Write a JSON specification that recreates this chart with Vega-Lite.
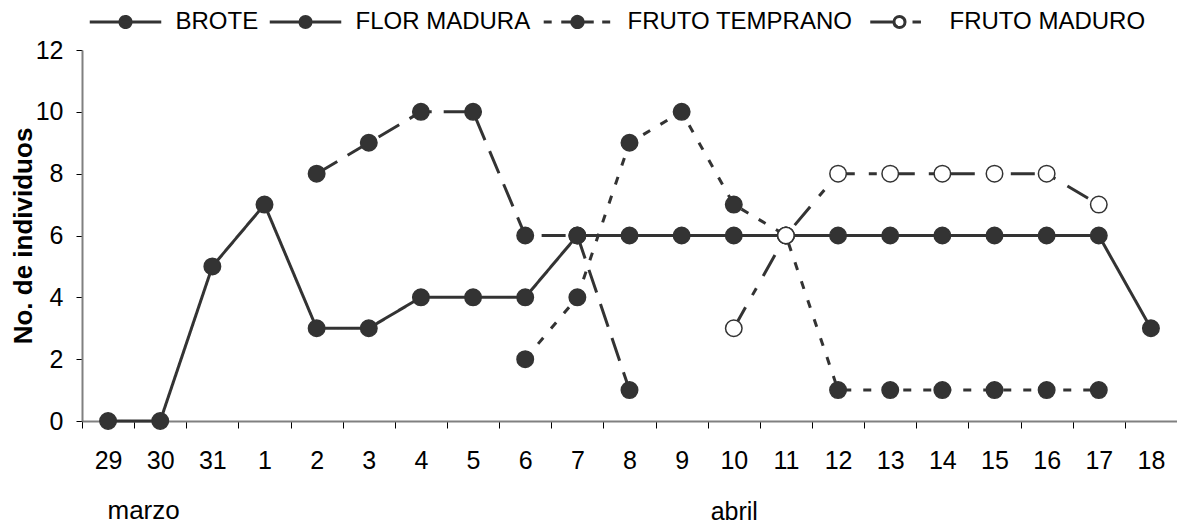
{
  "$schema": "https://vega.github.io/schema/vega-lite/v6.json",
  "width": 1095,
  "height": 371,
  "autosize": {"type": "none"},
  "padding": {"left": 82, "top": 50, "right": 0, "bottom": 106},
  "background": "white",
  "config": {
    "view": {"stroke": null},
    "font": "Liberation Sans"
  },
  "data": {
    "values": [
      {"dia": "29", "serie": "BROTE", "n": 0},
      {"dia": "30", "serie": "BROTE", "n": 0},
      {"dia": "31", "serie": "BROTE", "n": 5},
      {"dia": "1", "serie": "BROTE", "n": 7},
      {"dia": "2", "serie": "BROTE", "n": 3},
      {"dia": "3", "serie": "BROTE", "n": 3},
      {"dia": "4", "serie": "BROTE", "n": 4},
      {"dia": "5", "serie": "BROTE", "n": 4},
      {"dia": "6", "serie": "BROTE", "n": 4},
      {"dia": "7", "serie": "BROTE", "n": 6},
      {"dia": "8", "serie": "BROTE", "n": 6},
      {"dia": "9", "serie": "BROTE", "n": 6},
      {"dia": "10", "serie": "BROTE", "n": 6},
      {"dia": "11", "serie": "BROTE", "n": 6},
      {"dia": "12", "serie": "BROTE", "n": 6},
      {"dia": "13", "serie": "BROTE", "n": 6},
      {"dia": "14", "serie": "BROTE", "n": 6},
      {"dia": "15", "serie": "BROTE", "n": 6},
      {"dia": "16", "serie": "BROTE", "n": 6},
      {"dia": "17", "serie": "BROTE", "n": 6},
      {"dia": "18", "serie": "BROTE", "n": 3},
      {"dia": "2", "serie": "FLOR MADURA", "n": 8},
      {"dia": "3", "serie": "FLOR MADURA", "n": 9},
      {"dia": "4", "serie": "FLOR MADURA", "n": 10},
      {"dia": "5", "serie": "FLOR MADURA", "n": 10},
      {"dia": "6", "serie": "FLOR MADURA", "n": 6},
      {"dia": "7", "serie": "FLOR MADURA", "n": 6},
      {"dia": "8", "serie": "FLOR MADURA", "n": 1},
      {"dia": "6", "serie": "FRUTO TEMPRANO", "n": 2},
      {"dia": "7", "serie": "FRUTO TEMPRANO", "n": 4},
      {"dia": "8", "serie": "FRUTO TEMPRANO", "n": 9},
      {"dia": "9", "serie": "FRUTO TEMPRANO", "n": 10},
      {"dia": "10", "serie": "FRUTO TEMPRANO", "n": 7},
      {"dia": "11", "serie": "FRUTO TEMPRANO", "n": 6},
      {"dia": "12", "serie": "FRUTO TEMPRANO", "n": 1},
      {"dia": "13", "serie": "FRUTO TEMPRANO", "n": 1},
      {"dia": "14", "serie": "FRUTO TEMPRANO", "n": 1},
      {"dia": "15", "serie": "FRUTO TEMPRANO", "n": 1},
      {"dia": "16", "serie": "FRUTO TEMPRANO", "n": 1},
      {"dia": "17", "serie": "FRUTO TEMPRANO", "n": 1},
      {"dia": "10", "serie": "FRUTO MADURO", "n": 3},
      {"dia": "11", "serie": "FRUTO MADURO", "n": 6},
      {"dia": "12", "serie": "FRUTO MADURO", "n": 8},
      {"dia": "13", "serie": "FRUTO MADURO", "n": 8},
      {"dia": "14", "serie": "FRUTO MADURO", "n": 8},
      {"dia": "15", "serie": "FRUTO MADURO", "n": 8},
      {"dia": "16", "serie": "FRUTO MADURO", "n": 8},
      {"dia": "17", "serie": "FRUTO MADURO", "n": 7}
    ]
  },
  "encoding": {
    "x": {
      "field": "dia",
      "type": "nominal",
      "scale": {
        "type": "band",
        "paddingInner": 0,
        "paddingOuter": 0,
        "domain": ["29","30","31","1","2","3","4","5","6","7","8","9","10","11","12","13","14","15","16","17","18"]
      },
      "axis": {
        "labelAngle": 0,
        "tickBand": "extent",
        "tickSize": 7,
        "tickColor": "#000000",
        "tickWidth": 1,
        "domainColor": "#808080",
        "domainWidth": 2,
        "labelFont": "Liberation Sans",
        "labelFontSize": 25,
        "labelColor": "#000000",
        "labelPadding": 20,
        "labelBaseline": "top",
        "labelLineHeight": 51,
        "labelExpr": "datum.label == '10' ? ['10', 'abril'] : datum.label",
        "title": "marzo",
        "titleFont": "Liberation Sans",
        "titleFontSize": 26,
        "titleFontWeight": "normal",
        "titleColor": "#000000",
        "titleAnchor": "start",
        "titleAlign": "left",
        "titleBaseline": "middle",
        "titleX": 25,
        "titleY": 89
      }
    },
    "y": {
      "field": "n",
      "type": "quantitative",
      "scale": {"domain": [0, 12], "nice": false, "zero": true},
      "axis": {
        "values": [0, 2, 4, 6, 8, 10, 12],
        "grid": false,
        "tickSize": 6,
        "tickColor": "#000000",
        "tickWidth": 1,
        "domainColor": "#808080",
        "domainWidth": 2,
        "labelFont": "Liberation Sans",
        "labelFontSize": 25,
        "labelColor": "#000000",
        "labelPadding": 13,
        "title": "No. de individuos",
        "titleFont": "Liberation Sans",
        "titleFontSize": 26,
        "titleFontWeight": "bold",
        "titleColor": "#000000",
        "titlePadding": -1
      }
    }
  },
  "layer": [
    {
      "mark": {"type": "line", "strokeWidth": 3},
      "encoding": {
        "detail": {"field": "serie"},
        "order": {"value": null},
        "strokeDash": {
          "field": "serie",
          "type": "nominal",
          "scale": {
            "domain": ["BROTE", "FLOR MADURA", "FRUTO TEMPRANO", "FRUTO MADURO"],
            "range": [[1, 0], [24, 12], [8, 12], [24, 14, 8, 14]]
          },
          "legend": null
        },
        "color": {
          "field": "serie",
          "type": "nominal",
          "scale": {
            "domain": ["BROTE", "FLOR MADURA", "FRUTO TEMPRANO", "FRUTO MADURO"],
            "range": ["#333333", "#333333", "#333333", "#333333"]
          },
          "legend": {
            "title": null,
            "orient": "top",
            "direction": "horizontal",
            "offset": 16,
            "padding": 0,
            "symbolSize": 169,
            "symbolStrokeWidth": 3,
            "symbolOffset": 31.5,
            "labelOffset": 38,
            "labelLimit": 0,
            "columnPadding": 3,
            "labelFont": "Liberation Sans",
            "labelFontSize": 24,
            "labelColor": "#000000",
            "encoding": {
              "symbols": {
                "shape": {
                  "condition": [
                    {"test": "datum.value === 'BROTE'", "value": "M-5.5,0H5.5M-0.85,0A0.85,0.85,0,1,0,0.85,0A0.85,0.85,0,1,0,-0.85,0M0.85,0A0.85,0.85,0,1,0,-0.85,0A0.85,0.85,0,1,0,0.85,0"},
                    {"test": "datum.value === 'FLOR MADURA'", "value": "M-5.5,0H-2.9M-3.1,0H-0.85M0.85,0H3.1M2.9,0H5.5M-0.85,0A0.85,0.85,0,1,0,0.85,0A0.85,0.85,0,1,0,-0.85,0M0.85,0A0.85,0.85,0,1,0,-0.85,0A0.85,0.85,0,1,0,0.85,0"},
                    {"test": "datum.value === 'FRUTO TEMPRANO'", "value": "M-5.2,0H-3.8M-2.5,0H-1.3M-1.4,0H-0.85M0.85,0H1.4M1.3,0H2.5M3.8,0H5.2M0.85,0A0.85,0.85,0,1,0,-0.85,0A0.85,0.85,0,1,0,0.85,0M0.263,0.808A0.85,0.85,0,1,0,-0.263,-0.808A0.85,0.85,0,1,0,0.263,0.808M-0.688,0.5A0.85,0.85,0,1,0,0.688,-0.5A0.85,0.85,0,1,0,-0.688,0.5M-0.688,-0.5A0.85,0.85,0,1,0,0.688,0.5A0.85,0.85,0,1,0,-0.688,-0.5M0.263,-0.808A0.85,0.85,0,1,0,-0.263,0.808A0.85,0.85,0,1,0,0.263,-0.808"}
                  ],
                  "value": "M-4.5,0H-0.85M2.0,0H3.3M-0.85,0A0.85,0.85,0,1,0,0.85,0A0.85,0.85,0,1,0,-0.85,0M0.85,0A0.85,0.85,0,1,0,-0.85,0A0.85,0.85,0,1,0,0.85,0"
                },
                "fill": {
                  "condition": {"test": "datum.value === 'FRUTO MADURO'", "value": "#ffffff"},
                  "value": "#333333"
                },
                "stroke": {"value": "#333333"},
                "strokeWidth": {"value": 3},
                "opacity": {"value": 1}
              }
            }
          }
        }
      }
    },
    {
      "mark": {"type": "point", "filled": true, "shape": "circle", "size": 272, "stroke": "#333333", "strokeWidth": 1.5, "opacity": 1},
      "encoding": {
        "fill": {
          "condition": {"test": "datum.serie === 'FRUTO MADURO'", "value": "#ffffff"},
          "value": "#333333"
        }
      }
    }
  ]
}
